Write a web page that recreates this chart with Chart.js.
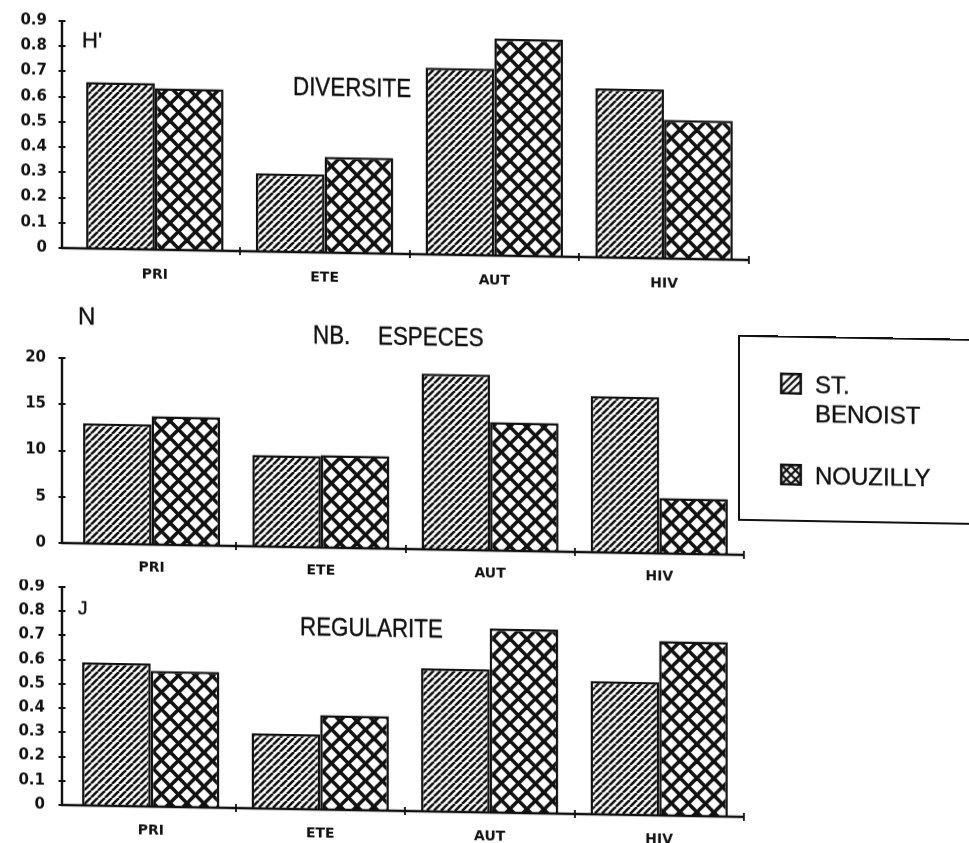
<!DOCTYPE html>
<html>
<head>
<meta charset="utf-8">
<title>Diversité, nombre d'espèces et régularité par saison</title>
<script src="https://cdn.jsdelivr.net/npm/chart.js@4.4.1/dist/chart.umd.min.js"></script>
<style>
  html, body { margin: 0; padding: 0; background: #fff; overflow: hidden; }
  #page {
    position: relative; width: 969px; height: 843px; overflow: visible;
    transform: skewY(1deg); transform-origin: 62px 0;
  }
  #page canvas { position: absolute; left: 0; }
  .t {
    position: absolute; white-space: nowrap; color: #111; line-height: 1;
    font-family: "Liberation Sans", Arial, sans-serif;
    -webkit-text-stroke: 0.4px #111;
  }
  .title { font-size: 26px; transform: scaleX(0.86); transform-origin: 0 0; }
  #legend {
    position: absolute; left: 738px; top: 323px; width: 262px; height: 186px;
    border: 2px solid #111; box-sizing: border-box;
  }
  .leg-item { position: absolute; left: 40px; }
  .leg-item canvas { position: absolute; left: 0; top: 0; }
  .leg-text {
    position: absolute; left: 35px; top: -3px; width: 120px;
    font-family: "Liberation Sans", Arial, sans-serif; font-size: 24px;
    line-height: 29px; color: #111; white-space: normal;
    -webkit-text-stroke: 0.4px #111;
  }
</style>
</head>
<body>
<div id="page">
  <canvas id="chartH" width="760" height="290" style="top:0px"></canvas>
  <canvas id="chartN" width="760" height="290" style="top:300px"></canvas>
  <canvas id="chartJ" width="760" height="263" style="top:580px"></canvas>

  <div class="t" style="left:82px; top:28.7px; font-size:22px;">H'</div>
  <div class="t title" style="left:293px; top:68.6px;">DIVERSITE</div>

  <div class="t" style="left:78px; top:303.6px; font-size:24px;">N</div>
  <div class="t title" style="left:313px; top:316.6px; word-spacing:25px;">NB. ESPECES</div>

  <div class="t" style="left:78px; top:597.5px; font-size:19px;">J</div>
  <div class="t title" style="left:300px; top:609.2px;">REGULARITE</div>

  <div id="legend"></div>
</div>

<script>
// Seasons on the category axis and the two sampled sites
const seasons = ['PRI', 'ETE', 'AUT', 'HIV'];
const sites = ['ST. BENOIST', 'NOUZILLY'];

// H' : diversity index
const diversiteStBenoist = [0.66, 0.31, 0.74, 0.67];
const diversiteNouzilly  = [0.64, 0.38, 0.86, 0.55];

// N : number of species
const especesStBenoist = [13.0, 9.9, 19.0, 16.9];
const especesNouzilly  = [13.9, 10.0, 13.9, 6.0];

// J : evenness
const regulariteStBenoist = [0.59, 0.31, 0.59, 0.55];
const regulariteNouzilly  = [0.56, 0.39, 0.76, 0.72];

// Value-axis ranges and tick steps
const indexAxisMax = 0.9,  indexAxisStep = 0.1;
const speciesAxisMax = 20, speciesAxisStep = 5;

const INK = '#111';

// Fill patterns: single diagonal hatching and a heavy diamond cross-hatch
function makeHatch(ctx, period, lw) {
  const c = document.createElement('canvas');
  c.width = c.height = period;
  const g = c.getContext('2d');
  g.fillStyle = '#fff'; g.fillRect(0, 0, period, period);
  g.strokeStyle = INK; g.lineWidth = lw;
  for (const o of [-period, 0, period]) {
    g.beginPath(); g.moveTo(o, period); g.lineTo(o + period, 0); g.stroke();
  }
  return ctx.createPattern(c, 'repeat');
}
function makeCross(ctx, period, lw) {
  const c = document.createElement('canvas');
  c.width = c.height = period;
  const g = c.getContext('2d');
  g.fillStyle = '#fff'; g.fillRect(0, 0, period, period);
  g.strokeStyle = INK; g.lineWidth = lw;
  for (const o of [-period, 0, period]) {
    g.beginPath(); g.moveTo(o, period); g.lineTo(o + period, 0); g.stroke();
    g.beginPath(); g.moveTo(o, 0); g.lineTo(o + period, period); g.stroke();
  }
  return ctx.createPattern(c, 'repeat');
}

// Hand-drawn style axes: value axis with crossing tick marks,
// category axis with a tick at each season boundary
const plotterAxes = {
  id: 'plotterAxes',
  afterDatasetsDraw(chart, args, opts) {
    const { ctx, chartArea: a, scales: { x, y } } = chart;
    const ax = opts.axisX;
    const yTop = y.getPixelForValue(y.max);
    const yBot = y.getPixelForValue(0);
    ctx.save();
    ctx.strokeStyle = INK;
    ctx.lineWidth = 2.4;
    ctx.lineCap = 'butt';
    ctx.beginPath();
    ctx.moveTo(ax, yTop - 1);
    ctx.lineTo(ax, yBot);
    ctx.lineTo(a.right, yBot);
    ctx.stroke();
    ctx.lineWidth = 1.8;
    ctx.beginPath();
    y.ticks.forEach(t => {
      const py = Math.round(y.getPixelForValue(t.value));
      ctx.moveTo(ax - 3.5, py); ctx.lineTo(ax + 3.5, py);
    });
    const step = x.getPixelForValue(1) - x.getPixelForValue(0);
    for (let i = 0; i < seasons.length; i++) {
      const px = Math.round(x.getPixelForValue(i) + step / 2);
      ctx.moveTo(px, yBot - 4); ctx.lineTo(px, yBot + 4);
    }
    ctx.stroke();
    ctx.restore();
  }
};

function panel(canvasId, stBenoist, nouzilly, axisMax, axisStep, lay) {
  const ctx = document.getElementById(canvasId).getContext('2d');
  const hatch = makeHatch(ctx, 7, 2.6);
  const cross = makeCross(ctx, 17, 3.6);
  return new Chart(ctx, {
    type: 'bar',
    data: {
      labels: seasons,
      datasets: [
        { label: sites[0], data: stBenoist, backgroundColor: hatch,
          borderColor: INK, borderWidth: 2.5 },
        { label: sites[1], data: nouzilly, backgroundColor: cross,
          borderColor: INK, borderWidth: 2.5 }
      ]
    },
    options: {
      responsive: false,
      animation: false,
      devicePixelRatio: 1,
      events: [],
      datasets: { bar: { categoryPercentage: 0.81, barPercentage: 1.0 } },
      layout: { padding: { top: lay.top, right: lay.right, bottom: 0, left: 0 } },
      plugins: {
        legend: { display: false },
        tooltip: { enabled: false },
        plotterAxes: { axisX: lay.axisX }
      },
      scales: {
        x: {
          grid: { display: false, drawTicks: false },
          border: { display: false },
          ticks: {
            color: INK, padding: lay.xPad, maxRotation: 0, autoSkip: false,
            font: { family: 'DejaVu Sans', size: 14, weight: 'bold' }
          },
          afterFit(s) {
            s.height = lay.xH;
            s.paddingLeft = 0; s.paddingRight = 0;
          }
        },
        y: {
          min: 0, max: axisMax,
          grid: { display: false, drawTicks: false },
          border: { display: false },
          ticks: {
            stepSize: axisStep, color: INK, padding: lay.yPad,
            font: { family: 'DejaVu Sans', size: 15, weight: 'bold' }
          },
          afterFit(s) {
            s.width = lay.yW;
            s.paddingTop = 0; s.paddingBottom = 0;
          }
        }
      }
    },
    plugins: [plotterAxes]
  });
}

panel('chartH', diversiteStBenoist, diversiteNouzilly, indexAxisMax, indexAxisStep,
  { top: 21, right: 11, yW: 70, yPad: 23, xH: 42, xPad: 17, axisX: 62 });
panel('chartN', especesStBenoist, especesNouzilly, speciesAxisMax, speciesAxisStep,
  { top: 58, right: 16, yW: 67, yPad: 21, xH: 47, xPad: 15, axisX: 62 });
panel('chartJ', regulariteStBenoist, regulariteNouzilly, indexAxisMax, indexAxisStep,
  { top: 7, right: 16, yW: 66, yPad: 21, xH: 38, xPad: 16, axisX: 62 });

// Legend: a swatch of each fill next to the site name
(function buildLegend() {
  const box = document.getElementById('legend');
  const tops = [35, 126];
  sites.forEach((name, i) => {
    const item = document.createElement('div');
    item.className = 'leg-item';
    item.style.top = tops[i] + 'px';
    const sw = document.createElement('canvas');
    sw.width = 22; sw.height = 22;
    const g = sw.getContext('2d');
    g.fillStyle = '#fff'; g.fillRect(0, 0, 22, 22);
    g.strokeStyle = INK; g.lineWidth = 2.2;
    g.beginPath();
    if (i === 0) {
      for (const o of [-7, 0, 7]) { g.moveTo(o + 1, 21); g.lineTo(o + 22, 0); }
    } else {
      g.moveTo(1, 1); g.lineTo(21, 21);
      g.moveTo(21, 1); g.lineTo(1, 21);
      g.moveTo(11, 2); g.lineTo(20, 11); g.lineTo(11, 20); g.lineTo(2, 11); g.closePath();
    }
    g.stroke();
    g.lineWidth = 2.6;
    g.strokeRect(1.3, 1.3, 19.4, 19.4);
    item.appendChild(sw);
    const tx = document.createElement('div');
    tx.className = 'leg-text';
    tx.textContent = name;
    item.appendChild(tx);
    box.appendChild(item);
  });
})();
</script>
</body>
</html>
